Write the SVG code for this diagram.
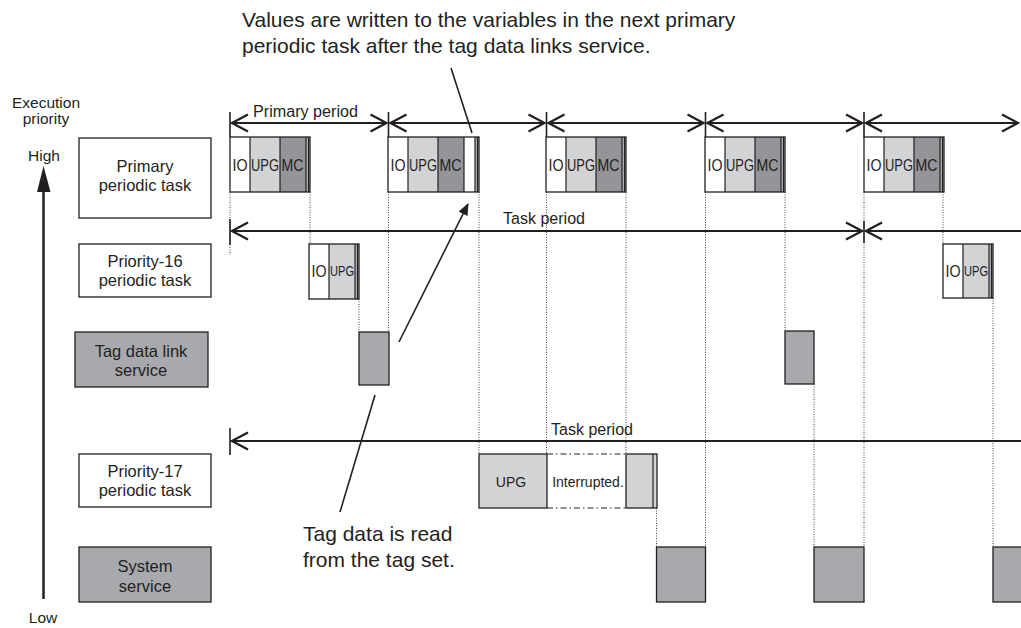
<svg xmlns="http://www.w3.org/2000/svg" width="1021" height="628" viewBox="0 0 1021 628">
<style>
text{font-family:"Liberation Sans",Arial,sans-serif;fill:#231f20}
.lbl{font-size:16.5px;text-anchor:middle}
.blk{stroke:#231f20;stroke-width:1.3}
.w{fill:#ffffff}
.lg{fill:#d1d3d4}
.dg{fill:#939598}
.sg{fill:#a7a9ac}
.st{fill:#bcbec0}
.seg{font-size:17px;text-anchor:middle}
.per{stroke:#231f20;stroke-width:2;fill:none;marker-start:url(#chev);marker-end:url(#chev)}
.tick{stroke:#231f20;stroke-width:1.6}
.dot{stroke:#444;stroke-width:1;stroke-dasharray:1 1.5;fill:none}
.ann{stroke:#231f20;stroke-width:1.6;fill:none}
.note{font-size:21px}
.plab{font-size:16px}
</style>
<defs>
<marker id="chev" viewBox="0 0 20 20" refX="18" refY="10" markerWidth="20" markerHeight="20" markerUnits="userSpaceOnUse" orient="auto-start-reverse">
<path d="M2,1.5 L18,10 L2,18.5" fill="none" stroke="#231f20" stroke-width="2.2"/>
</marker>
<marker id="fill" viewBox="0 0 12 10" refX="11" refY="5" markerWidth="12" markerHeight="10" markerUnits="userSpaceOnUse" orient="auto">
<path d="M0,0 L12,5 L0,10 z" fill="#231f20"/>
</marker>
</defs>

<!-- axis -->
<g id="axis">
<text x="46" y="108" style="font-size:15.5px;text-anchor:middle">Execution</text>
<text x="46" y="124" style="font-size:15.5px;text-anchor:middle">priority</text>
<text x="44" y="161" style="font-size:15.5px;text-anchor:middle">High</text>
<text x="43" y="623" style="font-size:15.5px;text-anchor:middle">Low</text>
<line x1="43.5" y1="188" x2="43.5" y2="599" stroke="#231f20" stroke-width="2.5"/>
<polygon points="43.5,166 37,192 50.5,192" fill="#231f20"/>
</g>

<!-- left label nodes -->
<g id="lbl-primary"><rect x="79" y="138" width="132" height="80" class="blk w"/><text class="lbl" x="145" y="172">Primary</text><text class="lbl" x="145" y="191">periodic task</text></g>
<g id="lbl-p16"><rect x="79" y="244" width="132" height="53" class="blk w"/><text class="lbl" x="145" y="267">Priority-16</text><text class="lbl" x="145" y="286">periodic task</text></g>
<g id="lbl-tag"><rect x="75" y="332" width="133" height="55" class="blk sg"/><text class="lbl" x="141" y="357">Tag data link</text><text class="lbl" x="141" y="376">service</text></g>
<g id="lbl-p17"><rect x="79" y="454" width="132" height="53" class="blk w"/><text class="lbl" x="145" y="477">Priority-17</text><text class="lbl" x="145" y="496">periodic task</text></g>
<g id="lbl-sys"><rect x="79" y="547" width="132" height="55" class="blk sg"/><text class="lbl" x="145" y="572">System</text><text class="lbl" x="145" y="592">service</text></g>

<!-- connectors: dotted guides, period arrows, annotation lines -->
<g id="connectors">
<line class="dot" x1="230" y1="192" x2="230" y2="255"/>
<line class="dot" x1="310" y1="192" x2="310" y2="244"/>
<line class="dot" x1="359" y1="299" x2="359" y2="332"/>
<line class="dot" x1="388.5" y1="192" x2="388.5" y2="332"/>
<line class="dot" x1="479" y1="192" x2="479" y2="454"/>
<line class="dot" x1="546.5" y1="192" x2="546.5" y2="454"/>
<line class="dot" x1="626" y1="192" x2="626" y2="454"/>
<line class="dot" x1="656.5" y1="508" x2="656.5" y2="547"/>
<line class="dot" x1="705.5" y1="192" x2="705.5" y2="547"/>
<line class="dot" x1="785" y1="192" x2="785" y2="331"/>
<line class="dot" x1="814" y1="384" x2="814" y2="547"/>
<line class="dot" x1="864" y1="192" x2="864" y2="547"/>
<line class="dot" x1="943" y1="192" x2="943" y2="244"/>
<line class="dot" x1="993" y1="298" x2="993" y2="547"/>

<!-- primary period ticks -->
<line class="tick" x1="230" y1="112" x2="230" y2="137"/>
<line class="tick" x1="388.5" y1="112" x2="388.5" y2="137"/>
<line class="tick" x1="546.5" y1="112" x2="546.5" y2="137"/>
<line class="tick" x1="705.5" y1="112" x2="705.5" y2="137"/>
<line class="tick" x1="864" y1="112" x2="864" y2="137"/>
<line class="per" x1="232" y1="123" x2="386.5" y2="123"/>
<line class="per" x1="390.5" y1="123" x2="544.5" y2="123"/>
<line class="per" x1="548.5" y1="123" x2="703.5" y2="123"/>
<line class="per" x1="707.5" y1="123" x2="862" y2="123"/>
<line class="per" x1="866" y1="123" x2="1018" y2="123"/>

<!-- task period (priority-16) -->
<line class="tick" x1="230" y1="219" x2="230" y2="245"/>
<line class="tick" x1="864" y1="221" x2="864" y2="243"/>
<line class="per" x1="232" y1="231" x2="862" y2="231"/>
<line x1="866" y1="231" x2="1021" y2="231" stroke="#231f20" stroke-width="2" style="marker-start:url(#chev)"/>

<!-- task period (priority-17) -->
<line class="tick" x1="230" y1="428" x2="230" y2="455"/>
<line x1="232" y1="441" x2="1021" y2="441" stroke="#231f20" stroke-width="2" style="marker-start:url(#chev)"/>

<!-- annotation lines -->
<line class="ann" x1="451" y1="68" x2="472" y2="133"/>
<line class="ann" x1="399" y1="342" x2="468" y2="204" marker-end="url(#fill)"/>
<line class="ann" x1="375" y1="395" x2="340" y2="512"/>
</g>

<!-- period labels and notes -->
<g id="labels">
<text class="plab" x="253" y="117" textLength="105" lengthAdjust="spacingAndGlyphs">Primary period</text>
<text class="plab" x="503" y="224" textLength="82" lengthAdjust="spacingAndGlyphs">Task period</text>
<text class="plab" x="551" y="435" textLength="82" lengthAdjust="spacingAndGlyphs">Task period</text>
<text class="note" x="242" y="27">Values are written to the variables in the next primary</text>
<text class="note" x="242" y="53">periodic task after the tag data links service.</text>
<text class="note" x="303" y="541">Tag data is read</text>
<text class="note" x="303" y="567">from the tag set.</text>
</g>

<!-- primary periodic task executions -->
<g id="pri-1">
<rect x="230" y="137" width="20" height="55" class="w"/><rect x="250" y="137" width="30" height="55" class="lg"/><rect x="280" y="137" width="26" height="55" class="dg"/><rect x="306" y="137" width="4" height="55" class="st"/>
<path d="M250,137V192M280,137V192M306,137V192M308.5,137V192" stroke="#231f20" stroke-width="1.2"/>
<rect x="230" y="137" width="80" height="55" fill="none" class="blk"/>
<text class="seg" x="240" y="171" textLength="15" lengthAdjust="spacingAndGlyphs">IO</text><text class="seg" x="265" y="171" textLength="28" lengthAdjust="spacingAndGlyphs">UPG</text><text class="seg" x="292.5" y="171" textLength="22" lengthAdjust="spacingAndGlyphs">MC</text>
</g>
<g id="pri-2">
<rect x="388" y="137" width="20" height="55" class="w"/><rect x="408" y="137" width="30" height="55" class="lg"/><rect x="438" y="137" width="26" height="55" class="dg"/><rect x="464" y="137" width="11" height="55" class="w"/><rect x="475" y="137" width="4" height="55" class="st"/>
<path d="M408,137V192M438,137V192M464,137V192M475,137V192M477.5,137V192" stroke="#231f20" stroke-width="1.2"/>
<rect x="388" y="137" width="91" height="55" fill="none" class="blk"/>
<text class="seg" x="398" y="171" textLength="15" lengthAdjust="spacingAndGlyphs">IO</text><text class="seg" x="423" y="171" textLength="28" lengthAdjust="spacingAndGlyphs">UPG</text><text class="seg" x="450.5" y="171" textLength="22" lengthAdjust="spacingAndGlyphs">MC</text>
</g>
<g id="pri-3">
<rect x="546" y="137" width="20" height="55" class="w"/><rect x="566" y="137" width="30" height="55" class="lg"/><rect x="596" y="137" width="26" height="55" class="dg"/><rect x="622" y="137" width="4" height="55" class="st"/>
<path d="M566,137V192M596,137V192M622,137V192M624.5,137V192" stroke="#231f20" stroke-width="1.2"/>
<rect x="546" y="137" width="80" height="55" fill="none" class="blk"/>
<text class="seg" x="556" y="171" textLength="15" lengthAdjust="spacingAndGlyphs">IO</text><text class="seg" x="581" y="171" textLength="28" lengthAdjust="spacingAndGlyphs">UPG</text><text class="seg" x="608.5" y="171" textLength="22" lengthAdjust="spacingAndGlyphs">MC</text>
</g>
<g id="pri-4">
<rect x="705" y="137" width="20" height="55" class="w"/><rect x="725" y="137" width="30" height="55" class="lg"/><rect x="755" y="137" width="26" height="55" class="dg"/><rect x="781" y="137" width="4" height="55" class="st"/>
<path d="M725,137V192M755,137V192M781,137V192M783.5,137V192" stroke="#231f20" stroke-width="1.2"/>
<rect x="705" y="137" width="80" height="55" fill="none" class="blk"/>
<text class="seg" x="715" y="171" textLength="15" lengthAdjust="spacingAndGlyphs">IO</text><text class="seg" x="740" y="171" textLength="28" lengthAdjust="spacingAndGlyphs">UPG</text><text class="seg" x="767.5" y="171" textLength="22" lengthAdjust="spacingAndGlyphs">MC</text>
</g>
<g id="pri-5">
<rect x="864" y="137" width="20" height="55" class="w"/><rect x="884" y="137" width="30" height="55" class="lg"/><rect x="914" y="137" width="26" height="55" class="dg"/><rect x="940" y="137" width="4" height="55" class="st"/>
<path d="M884,137V192M914,137V192M940,137V192M942.5,137V192" stroke="#231f20" stroke-width="1.2"/>
<rect x="864" y="137" width="80" height="55" fill="none" class="blk"/>
<text class="seg" x="874" y="171" textLength="15" lengthAdjust="spacingAndGlyphs">IO</text><text class="seg" x="899" y="171" textLength="28" lengthAdjust="spacingAndGlyphs">UPG</text><text class="seg" x="926.5" y="171" textLength="22" lengthAdjust="spacingAndGlyphs">MC</text>
</g>

<!-- priority-16 executions -->
<g id="p16-1">
<rect x="309" y="244" width="20" height="55" class="w"/><rect x="329" y="244" width="26" height="55" class="lg"/><rect x="355" y="244" width="4" height="55" class="st"/>
<path d="M329,244V299M355,244V299M357.5,244V299" stroke="#231f20" stroke-width="1.2"/>
<rect x="309" y="244" width="50" height="55" fill="none" class="blk"/>
<text class="seg" x="319" y="277" textLength="15" lengthAdjust="spacingAndGlyphs">IO</text><text class="seg" x="342" y="276" style="font-size:14px" textLength="24" lengthAdjust="spacingAndGlyphs">UPG</text>
</g>
<g id="p16-2">
<rect x="943" y="244" width="20" height="54" class="w"/><rect x="963" y="244" width="26" height="54" class="lg"/><rect x="989" y="244" width="4" height="54" class="st"/>
<path d="M963,244V298M989,244V298M991.5,244V298" stroke="#231f20" stroke-width="1.2"/>
<rect x="943" y="244" width="50" height="54" fill="none" class="blk"/>
<text class="seg" x="953" y="277" textLength="15" lengthAdjust="spacingAndGlyphs">IO</text><text class="seg" x="976" y="276" style="font-size:14px" textLength="24" lengthAdjust="spacingAndGlyphs">UPG</text>
</g>

<!-- tag data link service executions -->
<g id="tag-1"><rect x="359" y="332" width="30" height="53" class="blk sg"/></g>
<g id="tag-2"><rect x="785" y="331" width="29" height="53" class="blk sg"/></g>

<!-- priority-17 execution -->
<g id="p17-1">
<rect x="479" y="454" width="68" height="54" class="blk lg"/>
<text class="seg" x="511" y="487" style="font-size:14px">UPG</text>
<path d="M547,454H626M547,508H626" stroke="#231f20" stroke-width="1.2" stroke-dasharray="6 3 1.5 3"/>
<text x="588" y="487" style="font-size:14px;text-anchor:middle">Interrupted.</text>
<rect x="626" y="454" width="31" height="54" class="blk lg"/>
<path d="M653,454V508" stroke="#231f20" stroke-width="1.2"/>
</g>

<!-- system service executions -->
<g id="sys-1"><rect x="656.5" y="547" width="49" height="55" class="blk sg"/></g>
<g id="sys-2"><rect x="814" y="547" width="50" height="55" class="blk sg"/></g>
<g id="sys-3"><rect x="993" y="547" width="40" height="55" class="blk sg"/></g>
</svg>
